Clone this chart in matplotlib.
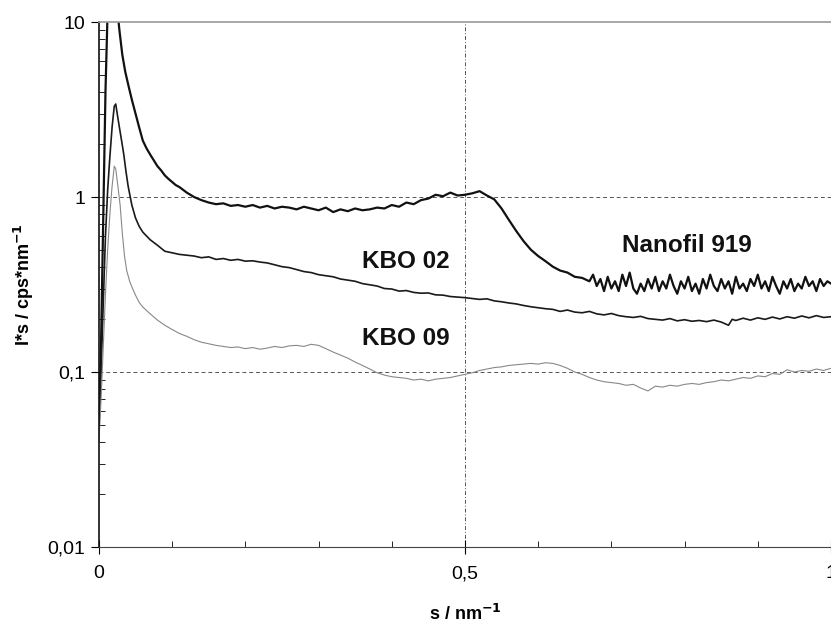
import matplotlib
matplotlib.use("Agg")
import matplotlib.pyplot as plt
from matplotlib.ticker import FixedLocator, FuncFormatter, LogLocator, NullFormatter

plt.rcParams['font.family'] = ['Liberation Sans', 'DejaVu Sans']

# --- scattering curves, I*s vs s ---
s_nano = [0.0, 0.003, 0.006, 0.009, 0.012, 0.015, 0.02, 0.025, 0.028, 0.032, 0.036,
          0.04, 0.045, 0.05, 0.055, 0.06, 0.065, 0.07, 0.075, 0.08, 0.085, 0.09, 0.095,
          0.10, 0.105, 0.11, 0.115, 0.12, 0.13, 0.14, 0.15, 0.16, 0.17, 0.18, 0.19, 0.20,
          0.21, 0.22, 0.23, 0.24, 0.25, 0.26, 0.27, 0.28, 0.29, 0.30, 0.31, 0.32, 0.33,
          0.34, 0.35, 0.36, 0.37, 0.38, 0.39, 0.40, 0.41, 0.42, 0.43, 0.44, 0.45, 0.46,
          0.47, 0.48, 0.49, 0.50, 0.51, 0.52, 0.53, 0.54, 0.55, 0.56, 0.57, 0.58, 0.59,
          0.60, 0.61, 0.62, 0.63, 0.64, 0.65, 0.66, 0.67, 0.675, 0.68, 0.685, 0.69, 0.695,
          0.70, 0.705, 0.71, 0.715, 0.72, 0.725, 0.73, 0.735, 0.74, 0.745, 0.75, 0.755,
          0.76, 0.765, 0.77, 0.775, 0.78, 0.785, 0.79, 0.795, 0.80, 0.805, 0.81, 0.815,
          0.82, 0.825, 0.83, 0.835, 0.84, 0.845, 0.85, 0.855, 0.86, 0.865, 0.87, 0.875,
          0.88, 0.885, 0.89, 0.895, 0.90, 0.905, 0.91, 0.915, 0.92, 0.925, 0.93, 0.935,
          0.94, 0.945, 0.95, 0.955, 0.96, 0.965, 0.97, 0.975, 0.98, 0.985, 0.99, 0.995, 1.0]
i_nano = [0.05, 0.15, 0.8, 4.0, 12, 18, 17, 12, 9, 6.5, 5.2,
          4.4, 3.6, 3.0, 2.5, 2.1, 1.9, 1.75, 1.62, 1.5, 1.42, 1.33, 1.27,
          1.22, 1.17, 1.14, 1.10, 1.06, 1.0, 0.96, 0.93, 0.91, 0.92, 0.89, 0.90, 0.88,
          0.90, 0.87, 0.89, 0.86, 0.88, 0.87, 0.85, 0.88, 0.86, 0.84, 0.87, 0.82, 0.85,
          0.83, 0.86, 0.84, 0.85, 0.87, 0.86, 0.90, 0.88, 0.93, 0.91, 0.96, 0.98, 1.03,
          1.01, 1.06, 1.02, 1.03, 1.05, 1.08, 1.02, 0.97, 0.86, 0.74, 0.64, 0.56, 0.50,
          0.46, 0.43, 0.40, 0.38, 0.37, 0.35, 0.345, 0.33, 0.36, 0.31, 0.34, 0.29, 0.35,
          0.30, 0.33, 0.29, 0.36, 0.31, 0.37, 0.30, 0.28, 0.32, 0.29, 0.34, 0.30,
          0.35, 0.29, 0.33, 0.30, 0.36, 0.31, 0.28, 0.33, 0.30, 0.35, 0.29, 0.32,
          0.28, 0.34, 0.30, 0.36, 0.31, 0.29, 0.34, 0.30, 0.33, 0.28, 0.35, 0.30,
          0.32, 0.29, 0.34, 0.31, 0.36, 0.30, 0.33, 0.29, 0.35, 0.31, 0.28, 0.33,
          0.30, 0.34, 0.29, 0.32, 0.30, 0.35, 0.31, 0.33, 0.29, 0.34, 0.31, 0.33, 0.32]

s_kbo02 = [0.0, 0.003, 0.006, 0.009, 0.012, 0.015, 0.018, 0.021, 0.023, 0.025, 0.028,
           0.031, 0.034, 0.037, 0.04, 0.045, 0.05, 0.055, 0.06, 0.07, 0.08, 0.09, 0.10,
           0.11, 0.12, 0.13, 0.14, 0.15, 0.16, 0.17, 0.18, 0.19, 0.20, 0.21, 0.22, 0.23,
           0.24, 0.25, 0.26, 0.27, 0.28, 0.29, 0.30, 0.31, 0.32, 0.33, 0.34, 0.35, 0.36,
           0.37, 0.38, 0.39, 0.40, 0.41, 0.42, 0.43, 0.44, 0.45, 0.46, 0.47, 0.48, 0.49,
           0.50, 0.51, 0.52, 0.53, 0.54, 0.55, 0.56, 0.57, 0.58, 0.59, 0.60, 0.61, 0.62,
           0.63, 0.64, 0.65, 0.66, 0.67, 0.68, 0.69, 0.70, 0.71, 0.72, 0.73, 0.74, 0.75,
           0.76, 0.77, 0.78, 0.79, 0.80, 0.81, 0.82, 0.83, 0.84, 0.85, 0.86, 0.865, 0.87,
           0.88, 0.89, 0.90, 0.91, 0.92, 0.93, 0.94, 0.95, 0.96, 0.97, 0.98, 0.99, 1.0]
i_kbo02 = [0.05, 0.1, 0.25, 0.6, 1.1, 1.7, 2.5, 3.3, 3.4, 3.0, 2.5,
           2.1, 1.75, 1.4, 1.15, 0.9, 0.76, 0.68, 0.63, 0.57, 0.53, 0.49, 0.48,
           0.47, 0.465, 0.46, 0.45, 0.455, 0.44, 0.445, 0.435, 0.44, 0.43, 0.432, 0.425, 0.42,
           0.41, 0.40, 0.395, 0.385, 0.375, 0.37, 0.36, 0.355, 0.35, 0.34, 0.335, 0.33, 0.32,
           0.315, 0.31, 0.30, 0.298, 0.29, 0.292, 0.285, 0.282, 0.283, 0.276, 0.275, 0.27, 0.268,
           0.266, 0.263, 0.26, 0.262, 0.255, 0.252, 0.248, 0.245, 0.24, 0.236, 0.233, 0.23, 0.228,
           0.222, 0.226, 0.22, 0.218, 0.222, 0.215, 0.212, 0.216, 0.21, 0.207, 0.205, 0.208, 0.202,
           0.2, 0.198, 0.202, 0.196, 0.199, 0.195, 0.197, 0.194, 0.198, 0.193, 0.185, 0.2, 0.197,
           0.203, 0.198, 0.204, 0.2, 0.206, 0.201, 0.207, 0.203, 0.209, 0.204, 0.21, 0.205, 0.207]

s_kbo09 = [0.0, 0.003, 0.006, 0.009, 0.012, 0.015, 0.018, 0.021, 0.023, 0.026, 0.029,
           0.032, 0.035, 0.038, 0.042, 0.046, 0.05, 0.055, 0.06, 0.065, 0.07, 0.08, 0.09,
           0.10, 0.11, 0.12, 0.13, 0.14, 0.15, 0.16, 0.17, 0.18, 0.19, 0.20, 0.21, 0.22,
           0.23, 0.24, 0.25, 0.26, 0.27, 0.28, 0.29, 0.30, 0.31, 0.32, 0.33, 0.34, 0.35,
           0.36, 0.37, 0.38, 0.39, 0.40, 0.41, 0.42, 0.43, 0.44, 0.45, 0.46, 0.47, 0.48,
           0.49, 0.50, 0.51, 0.52, 0.53, 0.54, 0.55, 0.56, 0.57, 0.58, 0.59, 0.60, 0.61,
           0.62, 0.63, 0.64, 0.65, 0.66, 0.67, 0.68, 0.69, 0.70, 0.71, 0.72, 0.73, 0.74,
           0.75, 0.76, 0.77, 0.78, 0.79, 0.80, 0.81, 0.82, 0.83, 0.84, 0.85, 0.86, 0.87,
           0.88, 0.89, 0.90, 0.91, 0.92, 0.93, 0.94, 0.95, 0.96, 0.97, 0.98, 0.99, 1.0]
i_kbo09 = [0.04, 0.07, 0.14, 0.28, 0.5, 0.8, 1.15, 1.5, 1.45, 1.15, 0.9,
           0.62, 0.46, 0.38, 0.33, 0.3, 0.275, 0.25, 0.235, 0.225, 0.215, 0.198, 0.185,
           0.175, 0.166, 0.16, 0.153, 0.148, 0.145, 0.142, 0.14, 0.138, 0.139, 0.136, 0.138, 0.135,
           0.137, 0.14, 0.138, 0.141, 0.142, 0.14, 0.144, 0.142, 0.136, 0.13, 0.125, 0.12, 0.114,
           0.109, 0.104, 0.099, 0.096, 0.094, 0.093, 0.092, 0.09, 0.091, 0.089, 0.091, 0.092, 0.093,
           0.095, 0.097, 0.099, 0.102, 0.104, 0.106, 0.107, 0.109, 0.11, 0.111, 0.112, 0.111, 0.113,
           0.112, 0.109, 0.105, 0.1, 0.097, 0.093, 0.09, 0.088, 0.087, 0.086, 0.084, 0.085, 0.081,
           0.078, 0.083, 0.082, 0.084, 0.083, 0.085, 0.086, 0.085, 0.087, 0.088, 0.09, 0.089, 0.091,
           0.093, 0.092, 0.095, 0.094, 0.098, 0.097, 0.103, 0.1, 0.102, 0.101, 0.104, 0.102, 0.105]

labels = ["Nanofil 919", "KBO 02", "KBO 09"]
label_pos = [(0.715, 0.53), (0.36, 0.43), (0.36, 0.156)]

fig = plt.figure(figsize=(8.31, 6.24), dpi=100)
ax = fig.add_axes([0.119, 0.1234, 0.881, 0.8413])

ax.plot(s_nano, i_nano, color='#111111', lw=1.6)
ax.plot(s_kbo02, i_kbo02, color='#1a1a1a', lw=1.2)
ax.plot(s_kbo09, i_kbo09, color='#888888', lw=0.8)

ax.set_yscale('log')
ax.set_xlim(0, 1.0)
ax.set_ylim(0.01, 10)

# gridlines at 1, 0.1 and 0.5
for yv in (1, 0.1):
    ax.axhline(yv, color='#555555', lw=0.7, dashes=(4, 3), zorder=0)
ax.axvline(0.5, color='#555555', lw=0.7, dashes=(4, 2, 1, 2), zorder=0)

for (x, y), t in zip(label_pos, labels):
    ax.text(x, y, t, fontsize=17.5, fontweight='bold', ha='left', va='center',
            color='#111111')

# axes styling
ax.spines['right'].set_visible(False)
ax.spines['top'].set_color('#999999')
ax.spines['top'].set_linestyle((0, (2, 1)))
ax.spines['top'].set_linewidth(1.2)
ax.spines['bottom'].set_color('#444444')
ax.spines['left'].set_color('#111111')
ax.spines['left'].set_linewidth(1.2)

ax.xaxis.set_major_locator(FixedLocator([0, 0.5, 1.0]))
ax.xaxis.set_minor_locator(FixedLocator([0.1, 0.2, 0.3, 0.4, 0.6, 0.7, 0.8, 0.9]))
ax.yaxis.set_major_locator(LogLocator(base=10))
ax.yaxis.set_minor_locator(LogLocator(base=10, subs=range(2, 10)))
ax.yaxis.set_minor_formatter(NullFormatter())

def comma_fmt(v, pos):
    if v >= 1:
        return f"{v:g}"
    return f"{v:g}".replace('.', ',')

ax.xaxis.set_major_formatter(FuncFormatter(comma_fmt))
ax.yaxis.set_major_formatter(FuncFormatter(comma_fmt))

ax.tick_params(axis='y', which='major', direction='out', length=6, labelsize=14, pad=4)
ax.tick_params(axis='y', which='minor', direction='in', length=4)
ax.tick_params(axis='x', which='major', direction='inout', length=10, labelsize=14, pad=8)
ax.tick_params(axis='x', which='minor', direction='in', length=4)

ax.set_xlabel("s / nm$^{\\mathbf{-1}}$", fontsize=13, fontweight='bold', labelpad=16)
ax.set_ylabel("I*s / cps*nm$^{\\mathbf{-1}}$", fontsize=13, fontweight='bold', labelpad=8)

fig.savefig("out.png", dpi=100)
